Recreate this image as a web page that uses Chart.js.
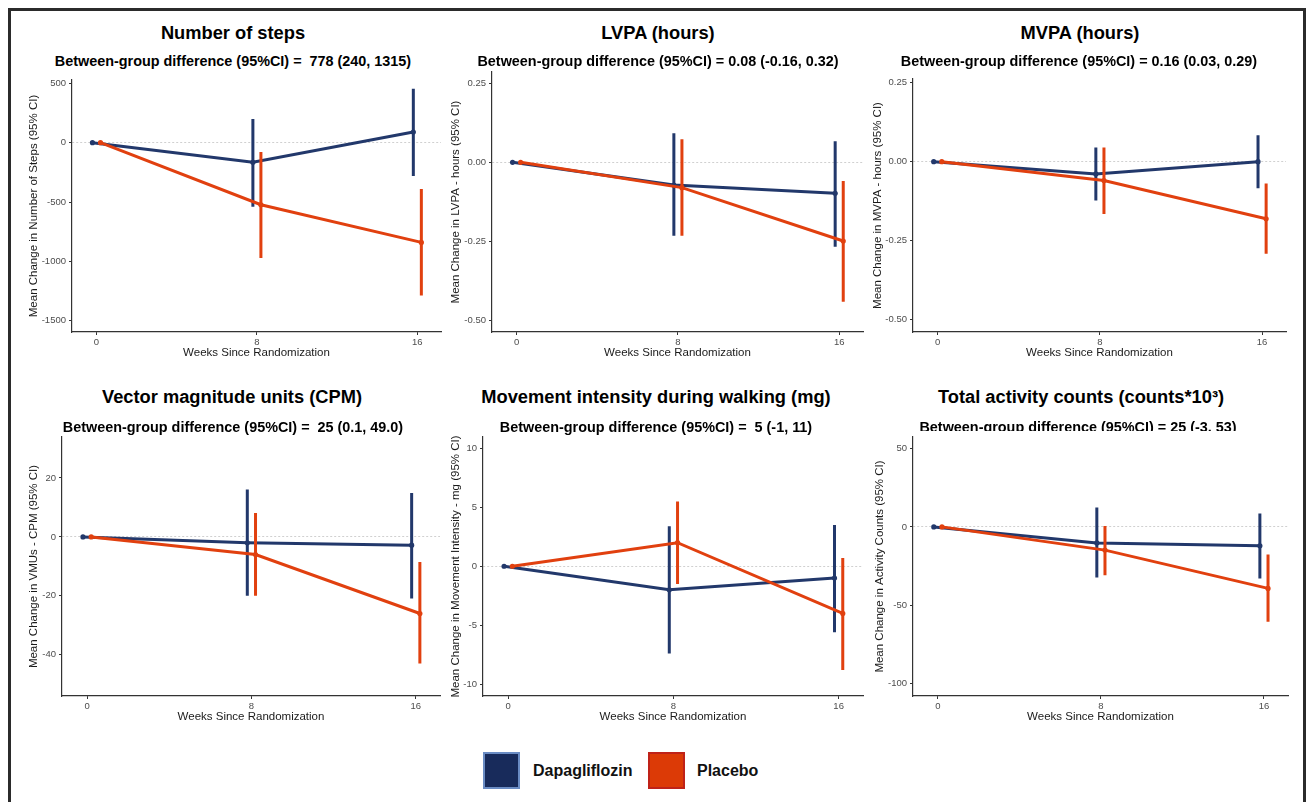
<!DOCTYPE html>
<html>
<head>
<meta charset="utf-8">
<script src="https://cdn.jsdelivr.net/npm/chart.js@4.4.1/dist/chart.umd.min.js"></script>
<style>
  body { margin: 0; background: #fff; width: 1307px; height: 802px; overflow: hidden; position: relative;
         font-family: "Liberation Sans", Arial, Helvetica, sans-serif; }
  .frame { position: absolute; left: 8px; top: 8px; width: 1298px; height: 1000px;
           border: 3px solid #2b2b2b; box-sizing: border-box; }
  canvas { position: absolute; }
  .ttl { position: absolute; font-weight: bold; white-space: pre; line-height: 1; color: #000;
         transform: translateX(-50%); }
  .clip { position: absolute; left: 0; width: 1307px; overflow: hidden; }
  .sw { position: absolute; width: 37px; height: 37px; box-sizing: border-box; }
  .lg { position: absolute; font-weight: bold; font-size: 16px; line-height: 1; color: #111; }
</style>
</head>
<body>
<div class="frame"></div>
<div id="panels"></div>

<div class="sw" style="left:483px; top:752px; background:#182b5b; border:2px solid #6a8cc4;"></div>
<div class="lg" style="left:533px; top:763px;">Dapagliflozin</div>
<div class="sw" style="left:648px; top:752px; background:#dc3a06; border:2px solid #bf2218;"></div>
<div class="lg" style="left:697px; top:763px;">Placebo</div>

<script>
const FONT = '"Liberation Sans", Arial, Helvetica, sans-serif';
const BLUE = '#22386b';
const RED = '#e1400f';

const weeks = [0, 8, 16];
const weekTicks = [0, 8, 16];
const xMin = -1.22;
const xMax = 17.18;
const dodge = 0.2;

// Number of steps
const stepsDapaMean = [0, -165, 90];
const stepsDapaLow = [0, -540, -280];
const stepsDapaHigh = [0, 200, 455];
const stepsPlacMean = [0, -523, -840];
const stepsPlacLow = [0, -972, -1287];
const stepsPlacHigh = [0, -78, -390];
const stepsTicks = [-1500, -1000, -500, 0, 500];
const stepsTickLabels = ['-1500', '-1000', '-500', '0', '500'];

// LVPA (hours)
const lvpaDapaMean = [0, -0.072, -0.098];
const lvpaDapaLow = [0, -0.232, -0.267];
const lvpaDapaHigh = [0, 0.092, 0.067];
const lvpaPlacMean = [0, -0.080, -0.249];
const lvpaPlacLow = [0, -0.232, -0.441];
const lvpaPlacHigh = [0, 0.073, -0.059];
const lvpaTicks = [-0.5, -0.25, 0, 0.25];
const lvpaTickLabels = ['-0.50', '-0.25', '0.00', '0.25'];

// MVPA (hours)
const mvpaDapaMean = [0, -0.039, 0.0];
const mvpaDapaLow = [0, -0.123, -0.084];
const mvpaDapaHigh = [0, 0.045, 0.084];
const mvpaPlacMean = [0, -0.060, -0.181];
const mvpaPlacLow = [0, -0.166, -0.292];
const mvpaPlacHigh = [0, 0.045, -0.069];
const mvpaTicks = [-0.5, -0.25, 0, 0.25];
const mvpaTickLabels = ['-0.50', '-0.25', '0.00', '0.25'];

// Vector magnitude units (CPM)
const vmuDapaMean = [0, -2.0, -2.8];
const vmuDapaLow = [0, -20, -20.9];
const vmuDapaHigh = [0, 16.1, 14.9];
const vmuPlacMean = [0, -6.0, -26];
const vmuPlacLow = [0, -20, -43];
const vmuPlacHigh = [0, 8.1, -8.5];
const vmuTicks = [-40, -20, 0, 20];
const vmuTickLabels = ['-40', '-20', '0', '20'];

// Movement intensity during walking (mg)
const mgDapaMean = [0, -2.0, -1.0];
const mgDapaLow = [0, -7.4, -5.6];
const mgDapaHigh = [0, 3.4, 3.5];
const mgPlacMean = [0, 2.0, -4.0];
const mgPlacLow = [0, -1.5, -8.8];
const mgPlacHigh = [0, 5.5, 0.7];
const mgTicks = [-10, -5, 0, 5, 10];
const mgTickLabels = ['-10', '-5', '0', '5', '10'];

// Total activity counts (counts*10^3)
const tacDapaMean = [0, -10.2, -12.1];
const tacDapaLow = [0, -32.2, -32.9];
const tacDapaHigh = [0, 12.4, 8.5];
const tacPlacMean = [0, -14.8, -39.2];
const tacPlacLow = [0, -30.8, -60.5];
const tacPlacHigh = [0, 0.6, -17.6];
const tacTicks = [-100, -50, 0, 50];
const tacTickLabels = ['-100', '-50', '0', '50'];

const panels = [
  { title: 'Number of steps', sub: 'Between-group difference (95%CI) =  778 (240, 1315)',
    ylab: 'Mean Change in Number of Steps (95% CI)', yMin: -1595, yMax: 528,
    dapa: [stepsDapaMean, stepsDapaLow, stepsDapaHigh], plac: [stepsPlacMean, stepsPlacLow, stepsPlacHigh],
    ticks: stepsTicks, tickLabels: stepsTickLabels },
  { title: 'LVPA (hours)', sub: 'Between-group difference (95%CI) = 0.08 (-0.16, 0.32)',
    ylab: 'Mean Change in LVPA - hours (95% CI)', yMin: -0.537, yMax: 0.286,
    dapa: [lvpaDapaMean, lvpaDapaLow, lvpaDapaHigh], plac: [lvpaPlacMean, lvpaPlacLow, lvpaPlacHigh],
    ticks: lvpaTicks, tickLabels: lvpaTickLabels },
  { title: 'MVPA (hours)', sub: 'Between-group difference (95%CI) = 0.16 (0.03, 0.29)',
    ylab: 'Mean Change in MVPA - hours (95% CI)', yMin: -0.54, yMax: 0.262,
    dapa: [mvpaDapaMean, mvpaDapaLow, mvpaDapaHigh], plac: [mvpaPlacMean, mvpaPlacLow, mvpaPlacHigh],
    ticks: mvpaTicks, tickLabels: mvpaTickLabels },
  { title: 'Vector magnitude units (CPM)', sub: 'Between-group difference (95%CI) =  25 (0.1, 49.0)',
    ylab: 'Mean Change in VMUs - CPM (95% CI)', yMin: -54, yMax: 33.9,
    dapa: [vmuDapaMean, vmuDapaLow, vmuDapaHigh], plac: [vmuPlacMean, vmuPlacLow, vmuPlacHigh],
    ticks: vmuTicks, tickLabels: vmuTickLabels },
  { title: 'Movement intensity during walking (mg)', sub: 'Between-group difference (95%CI) =  5 (-1, 11)',
    ylab: 'Mean Change in Movement Intensity - mg (95% CI)', yMin: -11.0, yMax: 10.96,
    dapa: [mgDapaMean, mgDapaLow, mgDapaHigh], plac: [mgPlacMean, mgPlacLow, mgPlacHigh],
    ticks: mgTicks, tickLabels: mgTickLabels },
  { title: 'Total activity counts (counts*10\u00B3)', sub: 'Between-group difference (95%CI) = 25 (-3, 53)',
    ylab: 'Mean Change in Activity Counts (95% CI)', yMin: -107.8, yMax: 57.3,
    dapa: [tacDapaMean, tacDapaLow, tacDapaHigh], plac: [tacPlacMean, tacPlacLow, tacPlacHigh],
    ticks: tacTicks, tickLabels: tacTickLabels },
];

// where each plot area sits on the page
const boxes = [
  { L: 72,  T: 80,  R: 441,  B: 332, ylabX: 34,  titleX: 233,  subX: 233,  titleBase: 39,  subBase: 66.5 },
  { L: 492, T: 72,  R: 863,  B: 332, ylabX: 456, titleX: 658,  subX: 658,  titleBase: 39,  subBase: 66.5 },
  { L: 913, T: 79,  R: 1286, B: 332, ylabX: 878, titleX: 1080, subX: 1079, titleBase: 39,  subBase: 66.5 },
  { L: 62,  T: 437, R: 440,  B: 696, ylabX: 34,  titleX: 232,  subX: 233,  titleBase: 403, subBase: 432 },
  { L: 483, T: 437, R: 863,  B: 696, ylabX: 456, titleX: 656,  subX: 656,  titleBase: 403, subBase: 432 },
  { L: 913, T: 437, R: 1288, B: 696, ylabX: 880, titleX: 1081, subX: 1078, titleBase: 403, subBase: 432, clipAt: 431 },
];

const PAD_TOP = 10, PAD_RIGHT = 6, X_AXIS_H = 28;

function meanPoints(vals, shift) {
  return weeks.map((w, i) => ({ x: w + shift, y: vals[i] }));
}

function barPoints(lo, hi, shift) {
  const pts = [];
  weeks.forEach((w, i) => {
    if (lo[i] === hi[i]) return;
    pts.push({ x: w + shift, y: lo[i] }, { x: w + shift, y: hi[i] }, { x: w + shift, y: null });
  });
  return pts;
}

function addText(cls, text, x, base, size, clipAt) {
  const d = document.createElement('div');
  d.className = cls;
  d.textContent = text;
  d.style.fontSize = size + 'px';
  d.style.left = x + 'px';
  const top = base - 0.8465 * size;
  if (clipAt) {
    const c = document.createElement('div');
    c.className = 'clip';
    c.style.top = top + 'px';
    c.style.height = (clipAt - top) + 'px';
    d.style.top = '0px';
    c.appendChild(d);
    document.body.appendChild(c);
  } else {
    d.style.top = top + 'px';
    document.body.appendChild(d);
  }
}

panels.forEach((p, k) => {
  const b = boxes[k];
  addText('ttl', p.title, b.titleX, b.titleBase, 18.3);
  addText('ttl', p.sub, b.subX, b.subBase, 14.4, b.clipAt);

  const cLeft = Math.round(b.ylabX - 6.9);
  const cTop = b.T - PAD_TOP;
  const yW = b.L - cLeft;
  const canvas = document.createElement('canvas');
  canvas.width = b.R + PAD_RIGHT - cLeft;
  canvas.height = b.B + X_AXIS_H - cTop;
  canvas.style.left = cLeft + 'px';
  canvas.style.top = cTop + 'px';
  document.getElementById('panels').appendChild(canvas);

  const lineSet = (label, data, color) => ({
    label, data, borderColor: color, backgroundColor: color, borderWidth: 3,
    pointRadius: 2.6, pointBorderWidth: 0, pointBackgroundColor: color, tension: 0
  });
  const barSet = (label, data, color) => ({
    label, data, borderColor: color, borderWidth: 3, pointRadius: 0, spanGaps: false
  });

  new Chart(canvas, {
    type: 'line',
    data: {
      datasets: [
        lineSet('Placebo', meanPoints(p.plac[0], dodge), RED),
        barSet('Placebo CI', barPoints(p.plac[1], p.plac[2], dodge), RED),
        lineSet('Dapagliflozin', meanPoints(p.dapa[0], -dodge), BLUE),
        barSet('Dapagliflozin CI', barPoints(p.dapa[1], p.dapa[2], -dodge), BLUE),
      ]
    },
    options: {
      responsive: false,
      animation: false,
      devicePixelRatio: 1,
      layout: { padding: { top: PAD_TOP, right: PAD_RIGHT, left: 0, bottom: 0 } },
      plugins: { legend: { display: false }, tooltip: { enabled: false } },
      scales: {
        x: {
          type: 'linear', min: xMin, max: xMax,
          afterBuildTicks: s => { s.ticks = weekTicks.map(v => ({ value: v })); },
          afterFit: s => { s.height = X_AXIS_H; },
          ticks: { autoSkip: false, maxRotation: 0, padding: 2, color: '#4d4d4d',
                   font: { size: 9.5, family: FONT }, callback: v => String(v) },
          grid: { drawOnChartArea: false, tickLength: 3, tickColor: '#333', tickWidth: 1 },
          border: { color: '#333', width: 1.2 },
          title: { display: true, text: 'Weeks Since Randomization', color: '#1a1a1a', padding: 0,
                   font: { size: 11.5, family: FONT } }
        },
        y: {
          type: 'linear', min: p.yMin, max: p.yMax,
          afterBuildTicks: s => { s.ticks = p.ticks.map(v => ({ value: v })); },
          afterFit: s => { s.width = yW; },
          ticks: { padding: 3, color: '#4d4d4d', font: { size: 9.5, family: FONT },
                   callback: v => p.tickLabels[p.ticks.indexOf(v)] },
          grid: {
            color: c => (c.tick && c.tick.value === 0) ? '#d0d0d0' : 'rgba(0,0,0,0)',
            lineWidth: 1, tickLength: 3, tickColor: '#333', tickWidth: 1
          },
          border: { color: '#333', width: 1.2, dash: [2, 2] },
          title: { display: true, text: p.ylab, color: '#1a1a1a', padding: 0,
                   font: { size: 11.5, family: FONT } }
        }
      }
    }
  });
});
</script>
</body>
</html>
